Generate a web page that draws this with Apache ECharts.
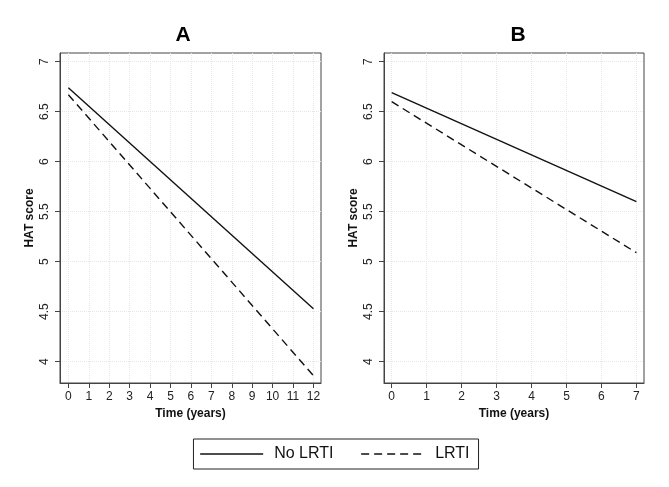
<!DOCTYPE html>
<html>
<head>
<meta charset="utf-8">
<script src="https://cdn.jsdelivr.net/npm/echarts@6/dist/echarts.min.js"></script>
<style>
html,body{margin:0;padding:0;background:#fff;}
#c{width:669px;height:487px;}
</style>
</head>
<body>
<div id="c"></div>
<script>
// ---- data ----
const timeA = [0, 12];
const noLrtiA = [6.74, 4.53];
const lrtiA = [6.67, 3.86];
const timeB = [0, 7];
const noLrtiB = [6.69, 5.60];
const lrtiB = [6.60, 5.09];
const xTicksA = [0, 1, 2, 3, 4, 5, 6, 7, 8, 9, 10, 11, 12];
const xTicksB = [0, 1, 2, 3, 4, 5, 6, 7];
const yTicks = [4, 4.5, 5, 5.5, 6, 6.5, 7];
const seriesNames = ['No LRTI', 'LRTI'];
const panelTitles = ['A', 'B'];

const FONT = 'Liberation Sans, Arial, sans-serif';
const frameColor = '#444';
const lineColor = '#111';

function pairs(xs, ys) { return xs.map((x, i) => [x, ys[i]]); }

function xAxis(gridIndex, ticks, min, max) {
  return {
    type: 'value', gridIndex, min, max,
    name: 'Time (years)', nameLocation: 'middle', nameGap: 23,
    nameTextStyle: { fontFamily: FONT, fontWeight: 'bold', fontSize: 12, color: '#111' },
    axisLine: { show: true, onZero: false, lineStyle: { color: frameColor, width: 1 } },
    axisTick: { show: true, length: 5, customValues: ticks, lineStyle: { color: frameColor } },
    axisLabel: { customValues: ticks, margin: 8, fontFamily: FONT, fontSize: 12, color: '#222' },
    splitLine: { show: true, lineStyle: { color: '#e6e6e6', type: 'dotted', width: 1 } }
  };
}
function yAxis(gridIndex) {
  return {
    type: 'value', gridIndex, min: 3.787, max: 7.087,
    name: 'HAT score', nameLocation: 'middle', nameGap: 24,
    nameTextStyle: { fontFamily: FONT, fontWeight: 'bold', fontSize: 12, color: '#111' },
    axisLine: { show: true, onZero: false, lineStyle: { color: frameColor, width: 1 } },
    axisTick: { show: true, length: 5, customValues: yTicks, lineStyle: { color: frameColor } },
    axisLabel: { customValues: yTicks, rotate: 90, margin: 9, fontFamily: FONT, fontSize: 12, color: '#222' },
    splitLine: { show: true, lineStyle: { color: '#e6e6e6', type: 'dotted', width: 1 } }
  };
}
function lineSeries(name, idx, data, dashed) {
  return {
    type: 'line', name, xAxisIndex: idx, yAxisIndex: idx, data,
    symbol: 'none', silent: true, animation: false,
    lineStyle: { color: lineColor, width: 1.4, type: dashed ? [8, 5] : 'solid' },
    itemStyle: { color: lineColor }
  };
}

const chart = echarts.init(document.getElementById('c'), null, { renderer: 'canvas' });
chart.setOption({
  animation: false,
  backgroundColor: '#fff',
  grid: [
    { left: 60, top: 53, width: 261, height: 330, show: true, borderColor: frameColor, borderWidth: 1, backgroundColor: '#fff' },
    { left: 384, top: 53, width: 260, height: 330, show: true, borderColor: frameColor, borderWidth: 1, backgroundColor: '#fff' }
  ],
  xAxis: [xAxis(0, xTicksA, -0.41, 12.37), xAxis(1, xTicksB, -0.22, 7.217)],
  yAxis: [yAxis(0), yAxis(1)],
  graphic: [
    { type: 'text', x: 183, y: 35, style: { text: panelTitles[0], fontFamily: FONT, fontWeight: 'bold', fontSize: 21, fill: '#000', textAlign: 'center', textVerticalAlign: 'middle' } },
    { type: 'text', x: 518, y: 35, style: { text: panelTitles[1], fontFamily: FONT, fontWeight: 'bold', fontSize: 21, fill: '#000', textAlign: 'center', textVerticalAlign: 'middle' } }
  ],
  legend: {
    data: seriesNames,
    left: 'center', top: 439,
    orient: 'horizontal',
    itemWidth: 63, itemHeight: 16, itemGap: 27,
    padding: [7, 9, 7, 6],
    borderColor: '#222', borderWidth: 1,
    selectedMode: false,
    itemStyle: { opacity: 0 },
    lineStyle: { width: 1.4 },
    textStyle: { fontFamily: FONT, fontSize: 16, color: '#111', padding: [0, 0, 0, 6] }
  },
  series: [
    lineSeries(seriesNames[0], 0, pairs(timeA, noLrtiA), false),
    lineSeries(seriesNames[1], 0, pairs(timeA, lrtiA), true),
    lineSeries(seriesNames[0], 1, pairs(timeB, noLrtiB), false),
    lineSeries(seriesNames[1], 1, pairs(timeB, lrtiB), true)
  ]
});
</script>
</body>
</html>
